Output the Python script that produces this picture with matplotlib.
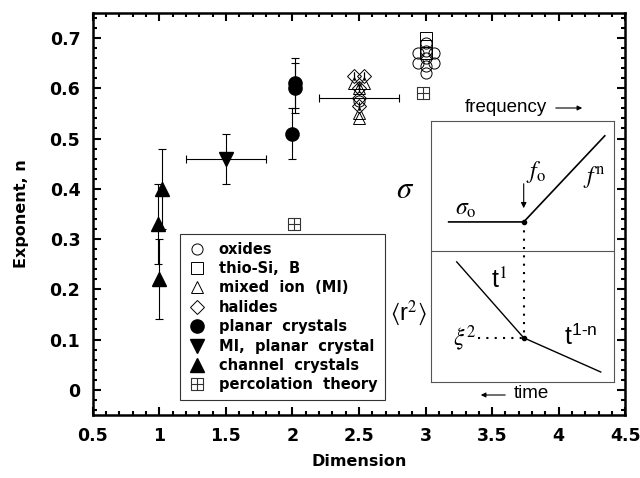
import matplotlib
matplotlib.use('Agg')
import matplotlib.pyplot as plt
from matplotlib.lines import Line2D
from matplotlib.patches import FancyArrowPatch
from matplotlib.path import Path
from matplotlib.ticker import MultipleLocator

# data
oxide_x = [2.94, 2.94, 3.0, 3.0, 3.0, 3.0, 3.0, 3.06, 3.06, 2.5]
oxide_y = [0.67, 0.65, 0.69, 0.675, 0.66, 0.645, 0.63, 0.67, 0.65, 0.575]

thio_x = [3.0, 3.0, 3.0]
thio_y = [0.70, 0.685, 0.67]

mixed_x = [2.46, 2.54, 2.5, 2.5, 2.5]
mixed_y = [0.61, 0.61, 0.60, 0.55, 0.54]

halide_x = [2.46, 2.54, 2.5, 2.5, 2.5]
halide_y = [0.625, 0.625, 0.60, 0.58, 0.565]
halide_xerr = [0, 0, 0, 0.3, 0]

planar_x = [2.0, 2.02, 2.02]
planar_y = [0.51, 0.61, 0.60]
planar_yerr = [0.05, 0.05, 0.05]

mi_planar_x = [1.5]
mi_planar_y = [0.46]
mi_planar_xerr = [0.3]
mi_planar_yerr = [0.05]

channel_x = [1.02, 0.99, 1.0]
channel_y = [0.40, 0.33, 0.22]
channel_yerr = [0.08, 0.08, 0.08]

perc_x = [2.01, 2.98]
perc_y = [0.33, 0.59]

legend_labels = ['oxides', 'thio-Si,  B', 'mixed  ion  (MI)', 'halides',
                 'planar  crystals', 'MI,  planar  crystal', 'channel  crystals',
                 'percolation  theory']

# square with a cross inside
perc_marker = Path(
    [(-1, -1), (1, -1), (1, 1), (-1, 1), (-1, -1),
     (0, -1), (0, 1), (-1, 0), (1, 0)],
    [Path.MOVETO, Path.LINETO, Path.LINETO, Path.LINETO, Path.CLOSEPOLY,
     Path.MOVETO, Path.LINETO, Path.MOVETO, Path.LINETO],
)

plt.rcParams['font.family'] = 'DejaVu Sans'
plt.rcParams['mathtext.fontset'] = 'stix'

fig = plt.figure(figsize=(6.4, 4.78), dpi=100)
ax = fig.add_axes([0.145, 0.132, 0.832, 0.841])

err_kw = dict(ecolor='black', elinewidth=0.8, capsize=3, capthick=0.8)
styles = [
    dict(marker='o', ms=8, mfc='none', mec='black', mew=0.7),
    dict(marker='s', ms=8, mfc='white', mec='black', mew=0.7),
    dict(marker='^', ms=8.5, mfc='none', mec='black', mew=0.7),
    dict(marker='D', ms=7, mfc='none', mec='black', mew=0.7),
    dict(marker='o', ms=9.5, mfc='black', mec='black'),
    dict(marker='v', ms=9.5, mfc='black', mec='black'),
    dict(marker='^', ms=9.5, mfc='black', mec='black'),
    dict(marker=perc_marker, ms=8, mfc='none', mec='#333333', mew=0.8),
]

ax.errorbar(channel_x, channel_y, yerr=channel_yerr, fmt='none', zorder=2, **err_kw)
ax.errorbar(mi_planar_x, mi_planar_y, xerr=mi_planar_xerr, yerr=mi_planar_yerr,
            fmt='none', zorder=2, **err_kw)
ax.errorbar(planar_x, planar_y, yerr=planar_yerr, fmt='none', zorder=2, **err_kw)
ax.errorbar(halide_x, halide_y, xerr=halide_xerr, fmt='none', zorder=2, **err_kw)

series = [(oxide_x, oxide_y), (thio_x, thio_y), (mixed_x, mixed_y),
          (halide_x, halide_y), (planar_x, planar_y), (mi_planar_x, mi_planar_y),
          (channel_x, channel_y), (perc_x, perc_y)]
draw_order = [1, 0, 2, 3, 4, 5, 6, 7]
for i in draw_order:
    xs, ys = series[i]
    ax.plot(xs, ys, linestyle='none', zorder=3, **styles[i])

ax.set_xlim(0.5, 4.5)
ax.set_ylim(-0.05, 0.75)
ax.xaxis.set_major_locator(MultipleLocator(0.5))
ax.xaxis.set_minor_locator(MultipleLocator(0.1))
ax.yaxis.set_major_locator(MultipleLocator(0.1))
ax.yaxis.set_minor_locator(MultipleLocator(0.02))
ax.set_xticklabels([f'{v:g}' for v in ax.get_xticks()])
ax.set_yticklabels([f'{v:g}' for v in ax.get_yticks()])
ax.tick_params(which='both', direction='in', top=True, right=True, width=1.5,
               labelsize=12.5, pad=9)
ax.tick_params(which='major', length=6)
ax.tick_params(which='minor', length=3)
for lab in ax.get_xticklabels() + ax.get_yticklabels():
    lab.set_fontweight('semibold')
for sp in ax.spines.values():
    sp.set_linewidth(1.8)
ax.set_xlabel('Dimension', fontsize=11.5, fontweight='bold', labelpad=6)
ax.set_ylabel('Exponent, n', fontsize=11.5, fontweight='bold', labelpad=15)

proxies = [Line2D([], [], linestyle='none', **st) for st in styles]
leg = ax.legend(proxies, legend_labels, loc='lower left',
                bbox_to_anchor=(0.150, 0.018), frameon=True, fancybox=False,
                edgecolor='black', labelspacing=0.3,
                handlelength=1.3, handletextpad=0.8, borderpad=0.55,
                prop={'weight': 'semibold', 'size': 10.5})
leg.get_frame().set_linewidth(0.8)

# schematic inset
ins = fig.add_axes([0.673, 0.201, 0.286, 0.546])
ins.set_xlim(0, 1)
ins.set_ylim(0, 1)
ins.set_xticks([])
ins.set_yticks([])
for sp in ins.spines.values():
    sp.set_linewidth(0.8)
    sp.set_color('#555555')
ins.axhline(0.502, color='#555555', lw=0.8)

ins.plot([0.098, 0.508, 0.951], [0.613, 0.613, 0.943], color='black', lw=1.2)
ins.plot([0.142, 0.508, 0.929], [0.46, 0.169, 0.038], color='black', lw=1.0)
ins.plot([0.508, 0.508], [0.613, 0.169], color='black', lw=1.5, ls=(0, (1, 3)))
ins.plot([0.26, 0.508], [0.169, 0.169], color='black', lw=1.5, ls=(0, (1, 3)))
ins.plot([0.508, 0.508], [0.613, 0.169], 'o', color='black', ms=3)
ins.annotate('', xy=(0.508, 0.655), xytext=(0.508, 0.77),
             arrowprops=dict(arrowstyle='-|>', color='black', lw=0.8,
                             mutation_scale=8))
ins.text(0.13, 0.64, r'$\sigma_{\rm o}$', fontsize=17)
ins.text(0.52, 0.78, r'$f_{\rm o}$', fontsize=17)
ins.text(0.83, 0.76, r'$f^{\rm n}$', fontsize=17)
ins.text(0.33, 0.36, 't$^{1}$', fontsize=18, family='Liberation Sans')
ins.text(0.73, 0.14, 't$^{\\mathregular{1\\text{-}n}}$', fontsize=18,
         family='Liberation Sans')
ins.text(0.25, 0.169, r'$\xi^2$', fontsize=17, ha='right', va='center')

fig.text(405 / 640, 1 - 190 / 478, r'$\sigma$', fontsize=22, ha='center', va='center')
fig.text(408 / 640, 1 - 313 / 478, r'$\langle$r$^2\rangle$', family='Liberation Sans',
         fontsize=17, ha='center', va='center')
fig.text(465 / 640, 1 - 107 / 478, 'frequency', fontsize=13.5,
         family='Liberation Sans', va='center')
fig.add_artist(FancyArrowPatch(
    (553 / 640, 1 - 108 / 478), (585 / 640, 1 - 108 / 478),
    transform=fig.transFigure, arrowstyle='-|>', mutation_scale=7, lw=0.8,
    color='black'))
fig.text(514 / 640, 1 - 394 / 478, 'time', fontsize=13.5,
         family='Liberation Sans', va='center')
fig.add_artist(FancyArrowPatch(
    (508 / 640, 1 - 395 / 478), (478 / 640, 1 - 395 / 478),
    transform=fig.transFigure, arrowstyle='-|>', mutation_scale=7, lw=0.8,
    color='black'))

fig.savefig('out.png', dpi=100)
